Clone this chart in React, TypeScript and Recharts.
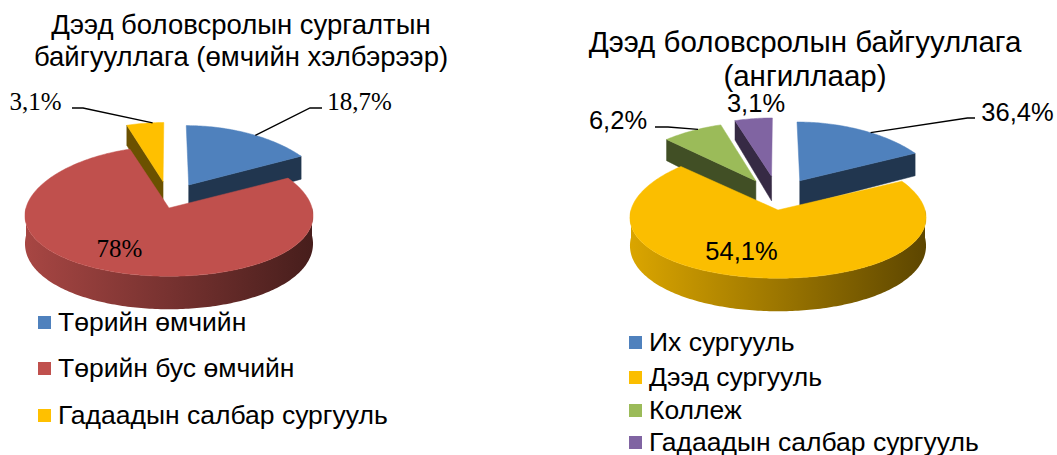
import React from 'react';
import { PieChart, Pie, Cell } from 'recharts';

// ---------- data ----------
const ownershipTitle = ['Дээд боловсролын сургалтын', 'байгууллага (өмчийн хэлбэрээр)'];
const ownershipCategories = ['Төрийн өмчийн', 'Төрийн бус өмчийн', 'Гадаадын салбар сургууль'];
// slice sizes as they are drawn in the picture
const ownershipShares = [17.2, 77.8, 5.0];
// percentage texts printed on the picture
const ownershipLabels = ['18,7%', '78%', '3,1%'];
const ownershipColors = ['#4F81BD', '#C0504D', '#FFC000'];
const ownershipExploded = [true, false, true];

const typeTitle = ['Дээд боловсролын байгууллага', '(ангиллаар)'];
const typeCategories = ['Их сургууль', 'Дээд сургууль', 'Коллеж', 'Гадаадын салбар сургууль'];
// slice sizes as they are drawn in the picture
const typeShares = [17.5, 69.7, 7.8, 5.0];
// percentage texts printed on the picture
const typeLabels = ['36,4%', '54,1%', '6,2%', '3,1%'];
const typeColors = ['#4F81BD', '#FBBE00', '#9BBB59', '#8064A2'];
const typeExploded = [true, false, true, true];

// ---------- layout / style ----------
const SANS = '"Liberation Sans", Arial, sans-serif';
const SERIF = '"Liberation Serif", "Times New Roman", serif';

type Geo = {
  cx: number; cy: number; rx: number; ry: number; q: number; px: number;
  D: number; pd: number; ex: number; ez: number;
};

const leftGeo: Geo = { cx: 169, cy: 208, rx: 143, ry: 65, q: 0.05, px: 0.12, D: 27.5, pd: 0.2, ex: 0.28, ez: 0.42 };
const rightGeo: Geo = { cx: 778, cy: 210, rx: 147, ry: 65, q: 0.05, px: 0.12, D: 27.5, pd: 0.2, ex: 0.3, ez: 0.54 };

type Leader = { sx: number; sy: number; kx: number; ky: number; f: number };
type LabelLayout = { dx: number; dy: number; leader?: Leader };

const leftLabelLayout: LabelLayout[] = [
  { dx: 190.5, dy: -107, leader: { sx: -37.5, sy: 7, kx: -49.5, ky: 7, f: 0.55 } },
  { dx: -49.5, dy: 40 },
  { dx: -133.5, dy: -107, leader: { sx: 36.5, sy: 7, kx: 47.5, ky: 7, f: 0.7 } },
];
const rightLabelLayout: LabelLayout[] = [
  { dx: 239.5, dy: -98, leader: { sx: -42.5, sy: 6, kx: -50, ky: 6, f: 0.57 } },
  { dx: -36.5, dy: 41 },
  { dx: -160, dy: -90, leader: { sx: 37, sy: 7, kx: 50, ky: 7, f: 0.6 } },
  { dx: -22, dy: -107 },
];

function shade(hex: string, f: number): string {
  const n = parseInt(hex.slice(1), 16);
  const r = Math.min(255, Math.round(((n >> 16) & 255) * f));
  const g = Math.min(255, Math.round(((n >> 8) & 255) * f));
  const b = Math.min(255, Math.round((n & 255) * f));
  return `rgb(${r},${g},${b})`;
}

type RenderOpts = {
  id: string;
  geo: Geo;
  order: number[];
  colors: string[];
  exploded: boolean[];
  labels: string[];
  layout: LabelLayout[];
  font: string;
  fontSize: number;
};

function makeRenderer(o: RenderOpts) {
  return (props: any) => {
    const idx = o.order[props.index];
    const g = o.geo;
    const cx = typeof props.cx === 'number' ? props.cx : g.cx;
    const cy = typeof props.cy === 'number' ? props.cy : g.cy;
    const rx = typeof props.outerRadius === 'number' ? props.outerRadius : g.rx;
    const ry = g.ry;
    const t1 = ((90 - props.startAngle) * Math.PI) / 180;
    const t2 = ((90 - props.endAngle) * Math.PI) / 180;
    const mid = (t1 + t2) / 2;
    const ex = o.exploded[idx];
    const oX = ex ? g.ex * Math.sin(mid) : 0;
    const oZ = ex ? -g.ez * Math.cos(mid) : 0;

    const proj = (X: number, Z: number, h: number): [number, number] => {
      const x = cx + rx * X * (1 + g.px * Z);
      const y = cy + ry * Z * (1 + g.q * Z) + h * g.D * (1 + g.pd * Z);
      return [x, y];
    };
    const P = (t: number, h: number) => proj(Math.sin(t) + oX, -Math.cos(t) + oZ, h);
    const A = (h: number) => proj(oX, oZ, h);
    const arc = (a: number, b: number, h: number) => {
      const n = Math.max(2, Math.ceil(Math.abs(b - a) / (Math.PI / 180)));
      const pts: [number, number][] = [];
      for (let k = 0; k <= n; k++) pts.push(P(a + ((b - a) * k) / n, h));
      return pts;
    };
    const toPath = (pts: [number, number][]) =>
      'M' + pts.map((p) => `${p[0].toFixed(2)},${p[1].toFixed(2)}`).join('L') + 'Z';

    const color = o.colors[idx];
    const dark = shade(color, 0.42);
    const gradId = `${o.id}-side-${idx}`;

    const faces: React.ReactNode[] = [];
    // radial faces
    if (Math.sin(t1) < -0.01) {
      faces.push(
        <path key="r1" d={toPath([A(0), P(t1, 0), P(t1, 1), A(1)])} fill={dark} stroke={dark} strokeWidth={0.5} />
      );
    }
    if (Math.sin(t2) > 0.01) {
      faces.push(
        <path key="r2" d={toPath([A(0), P(t2, 0), P(t2, 1), A(1)])} fill={dark} stroke={dark} strokeWidth={0.5} />
      );
    }
    // outer curved side (front half only)
    for (let k = -2; k <= 2; k++) {
      const lo = Math.PI / 2 + 2 * Math.PI * k;
      const hi = (3 * Math.PI) / 2 + 2 * Math.PI * k;
      const a = Math.max(t1, lo);
      const b = Math.min(t2, hi);
      if (b > a + 1e-6) {
        const top = arc(a, b, 0);
        const bot = arc(a, b, 1).reverse();
        faces.push(
          <path key={`s${k}`} d={toPath([...top, ...bot])} fill={`url(#${gradId})`} stroke="none" />
        );
      }
    }
    const topFace = toPath([A(0), ...arc(t1, t2, 0)]);

    const lay = o.layout[idx];
    const lx = cx + lay.dx;
    const ly = cy + lay.dy;
    let leader: React.ReactNode = null;
    if (lay.leader) {
      const L = lay.leader;
      const end = P(t1 + (t2 - t1) * L.f, 0);
      leader = (
        <polyline
          points={`${lx + L.sx},${ly + L.sy} ${lx + L.kx},${ly + L.ky} ${end[0]},${end[1]}`}
          fill="none"
          stroke="#000"
          strokeWidth={1.3}
        />
      );
    }

    return (
      <g key={`slice-${o.id}-${idx}`}>
        <defs>
          <linearGradient id={gradId} gradientUnits="userSpaceOnUse" x1={cx - rx} y1={0} x2={cx + rx} y2={0}>
            <stop offset="0" stopColor={shade(color, 0.87)} />
            <stop offset="0.5" stopColor={shade(color, 0.62)} />
            <stop offset="1" stopColor={shade(color, 0.37)} />
          </linearGradient>
        </defs>
        {faces}
        <path d={topFace} fill={color} stroke={color} strokeWidth={0.5} />
        {leader}
        <text
          x={lx}
          y={ly + o.fontSize * 0.36}
          textAnchor="middle"
          fontFamily={o.font}
          fontSize={o.fontSize}
          fill="#000"
        >
          {o.labels[idx]}
        </text>
      </g>
    );
  };
}

// painter's order: back slices first, front slice last (same clockwise sequence)
const leftOrder = [2, 0, 1];
const rightOrder = [2, 3, 0, 1];

const sum = (a: number[]) => a.reduce((s, v) => s + v, 0);
const leftStart = 90 + (ownershipShares[2] / sum(ownershipShares)) * 360;
const rightStart = 90 + ((typeShares[2] + typeShares[3]) / sum(typeShares)) * 360;

const leftData = leftOrder.map((i) => ({ name: ownershipCategories[i], value: ownershipShares[i] }));
const rightData = rightOrder.map((i) => ({ name: typeCategories[i], value: typeShares[i] }));

const leftRenderer = makeRenderer({
  id: 'own', geo: leftGeo, order: leftOrder, colors: ownershipColors, exploded: ownershipExploded,
  labels: ownershipLabels, layout: leftLabelLayout, font: SERIF, fontSize: 25,
});
const rightRenderer = makeRenderer({
  id: 'typ', geo: rightGeo, order: rightOrder, colors: typeColors, exploded: typeExploded,
  labels: typeLabels, layout: rightLabelLayout, font: SANS, fontSize: 25.5,
});

function TitleLines({ lines, cx, ys, size }: { lines: string[]; cx: number; ys: number[]; size: number }) {
  return (
    <>
      {lines.map((t, i) => (
        <div
          key={i}
          style={{
            position: 'absolute', left: cx - 300, width: 600, top: ys[i] - 20, height: 40, lineHeight: '40px',
            textAlign: 'center', fontFamily: SANS, fontSize: size, color: '#000', whiteSpace: 'nowrap',
          }}
        >
          {t}
        </div>
      ))}
    </>
  );
}

function LegendRows({ names, colors, x, ys }: { names: string[]; colors: string[]; x: number; ys: number[] }) {
  return (
    <>
      {names.map((n, i) => (
        <div
          key={i}
          style={{
            position: 'absolute', left: x, top: ys[i] - 18, height: 36, display: 'flex', alignItems: 'center',
            fontFamily: SANS, fontSize: 26.5, color: '#000', whiteSpace: 'nowrap',
          }}
        >
          <span style={{ display: 'inline-block', width: 13, height: 13, background: colors[i], marginRight: 7 }} />
          <span>{n}</span>
        </div>
      ))}
    </>
  );
}

export default function App() {
  return (
    <div style={{ position: 'absolute', left: 0, top: 0, width: 1057, height: 455, background: '#fff', overflow: 'hidden' }}>
      <PieChart width={1057} height={455} margin={{ top: 0, right: 0, bottom: 0, left: 0 }}>
        <Pie
          data={leftData}
          dataKey="value"
          nameKey="name"
          cx={leftGeo.cx}
          cy={leftGeo.cy}
          outerRadius={leftGeo.rx}
          startAngle={leftStart}
          endAngle={leftStart - 360}
          isAnimationActive={false}
          label={leftRenderer}
          labelLine={false}
          stroke="none"
        >
          {leftData.map((_, i) => (
            <Cell key={i} fill="transparent" stroke="none" />
          ))}
        </Pie>
        <Pie
          data={rightData}
          dataKey="value"
          nameKey="name"
          cx={rightGeo.cx}
          cy={rightGeo.cy}
          outerRadius={rightGeo.rx}
          startAngle={rightStart}
          endAngle={rightStart - 360}
          isAnimationActive={false}
          label={rightRenderer}
          labelLine={false}
          stroke="none"
        >
          {rightData.map((_, i) => (
            <Cell key={i} fill="transparent" stroke="none" />
          ))}
        </Pie>
      </PieChart>
      <TitleLines lines={ownershipTitle} cx={241} ys={[25, 57]} size={27.5} />
      <TitleLines lines={typeTitle} cx={805} ys={[42, 76]} size={29.5} />
      <LegendRows names={ownershipCategories} colors={ownershipColors} x={38} ys={[322, 368, 415]} />
      <LegendRows names={typeCategories} colors={typeColors} x={629} ys={[342, 377, 410, 442]} />
    </div>
  );
}
